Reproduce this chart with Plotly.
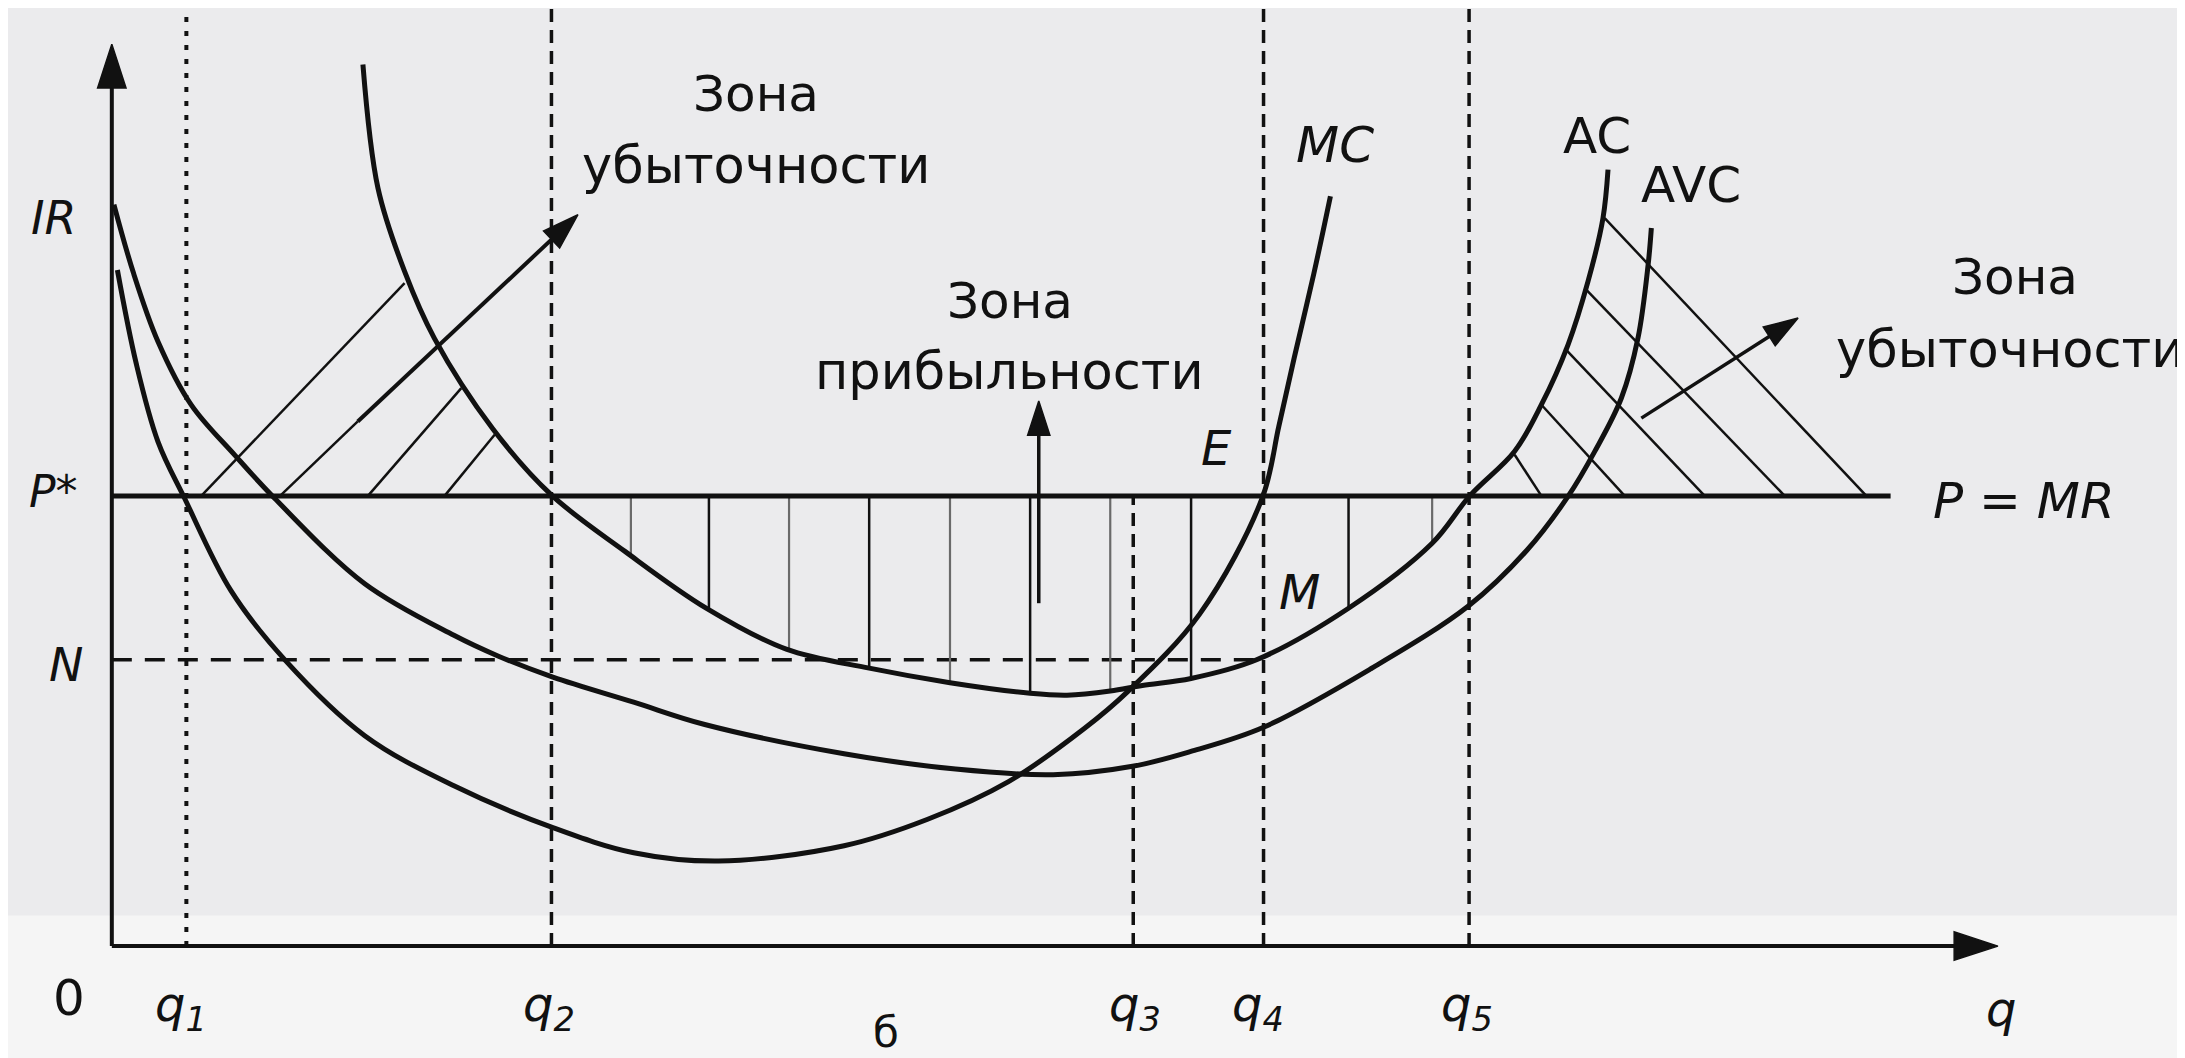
import numpy as np
import plotly.graph_objects as go

# ---------------- data (arbitrary schematic units) ----------------
q_names = ["q<sub>1</sub>", "q<sub>2</sub>", "q<sub>3</sub>", "q<sub>4</sub>", "q<sub>5</sub>"]
q_values = [5.35, 31.55, 73.3, 82.65, 97.4]
P_star = 32.3          # price level P* = MR
N_level = 20.54        # level N (AC at q4)
N_end_q = 82.15
P_line_end = 127.65
q_axis_end = 135.35
cost_axis_end = 64.7

mc_q = [0.4, 1.75, 3.31, 5.22, 8.55, 12.45, 18.15, 24.55, 31.65, 37.45, 43.55, 52.55,
        58.55, 64.35, 69.81, 72.9, 78.05, 82.55, 83.75, 84.85, 86.25, 87.45]
mc_cost = [48.5, 41.8, 36.2, 32.13, 25.5, 20.5, 15.1, 11.5, 8.5, 6.7, 6.1, 7.2,
           9.1, 11.8, 15.63, 18.26, 23.8, 32.14, 37.3, 42.2, 48.2, 53.8]

avc_q = [0.15, 1.55, 3.31, 5.7, 8.81, 11.68, 18.15, 24.55, 27.75, 31.65, 37.45, 42.55,
         52.55, 60.55, 67.55, 73.25, 77.55, 82.65, 90.35, 97.35, 101.55, 104.5,
         106.42, 108.33, 109.52, 110.25, 110.48]
avc_cost = [53.2, 48.3, 43.38, 38.83, 35.24, 32.13, 26.0, 22.3, 20.8, 19.3, 17.5, 15.9,
            13.8, 12.7, 12.3, 12.9, 14.0, 15.7, 19.9, 24.4, 28.4, 32.26,
            35.49, 39.32, 43.62, 48.89, 51.52]

ac_q = [18.02, 19.1, 21.01, 23.15, 27.35, 31.54, 36.85, 42.65, 48.4, 54.35, 60.15,
        65.9, 68.55, 71.65, 73.95, 77.45, 82.15, 88.75, 94.75, 97.45, 100.67, 102.59,
        104.5, 105.94, 107.01, 107.37]
ac_cost = [63.25, 54.38, 48.4, 43.6, 37.1, 32.37, 28.3, 24.25, 21.3, 19.94, 18.9,
           18.14, 18.0, 18.3, 18.7, 19.2, 20.54, 24.24, 28.9, 32.3, 35.5, 38.84,
           43.14, 47.7, 52.23, 55.7]

# profit zone hatching (vertical strokes from P down to AC)
profit_hatch_dark_q = [42.85, 54.35, 65.9, 77.45, 88.75]
profit_hatch_light_q = [37.25, 48.6, 60.15, 71.65, 94.75]

# left loss zone hatching (start on P line, end near AC)
left_hatch_q0 = [6.42, 18.38, 23.88]
left_hatch_q1 = [21.01, 25.08, 27.47]
left_hatch_c1 = [47.56, 40.03, 36.68]
left_arrow_q = [12.15, 17.65, 33.45]
left_arrow_c = [32.37, 37.64, 52.47]

# right loss zone hatching (start on AC, end on P line)
right_hatch_q0 = [107.13, 105.7, 104.25, 102.59, 100.67]
right_hatch_c0 = [52.23, 47.21, 42.9, 38.84, 35.25]
right_hatch_q1 = [125.91, 120.05, 114.31, 108.57, 102.59]
right_arrow_q = [109.76, 121.01]
right_arrow_c = [37.88, 45.06]

profit_arrow_q = 66.52
profit_arrow_c = [24.6, 39.1]

X_RANGE = [-7.45, 149.35]
Y_RANGE = [-8.6, 67.3]

INK = "#111111"
FONT = "DejaVu Sans"

fig = go.Figure()


def add_line(xs, ys, width, dash=None, shape="linear", color=INK):
    fig.add_trace(go.Scatter(x=xs, y=ys, mode="lines",
                             line=dict(color=color, width=width, dash=dash, shape=shape),
                             hoverinfo="skip", showlegend=False))


def add_arrow(xs, ys, width, head):
    n = len(xs)
    fig.add_trace(go.Scatter(
        x=xs, y=ys, mode="lines+markers",
        line=dict(color=INK, width=width),
        marker=dict(symbol=["circle"] * (n - 1) + ["arrow"],
                    size=[0] * (n - 1) + [head], angleref="previous",
                    color=INK, opacity=1, line=dict(width=1.5, color=INK)),
        hoverinfo="skip", showlegend=False))


# light lower strip of the scan
fig.add_shape(type="rect", xref="paper", yref="y", x0=0, x1=1, y0=Y_RANGE[0], y1=2.2,
              fillcolor="#f5f5f5", line=dict(width=0), layer="below")

# axes
add_arrow([0, 0], [0, cost_axis_end], 4, 46)
add_arrow([0, q_axis_end], [0, 0], 4, 46)

# vertical q lines
add_line([q_values[0]] * 2, [0, Y_RANGE[1]], 4, dash="5px,9px")
for i in (1, 3, 4):
    add_line([q_values[i]] * 2, [0, Y_RANGE[1]], 3.5, dash="13px,8px")
add_line([q_values[2]] * 2, [0, P_star], 3.5, dash="13px,8px")

# N level
add_line([0, N_end_q], [N_level, N_level], 3.5, dash="20px,13px")

# profit hatching
ac_x = np.array(ac_q)
ac_y = np.array(ac_cost)
for qv in profit_hatch_dark_q:
    add_line([qv, qv], [P_star, float(np.interp(qv, ac_x, ac_y))], 2.5)
for qv in profit_hatch_light_q:
    add_line([qv, qv], [P_star, float(np.interp(qv, ac_x, ac_y))], 2.2, color="#6a6a6a")

# left hatching
for a, b, c in zip(left_hatch_q0, left_hatch_q1, left_hatch_c1):
    add_line([a, b], [P_star, c], 2.5)
add_line(left_arrow_q[:2], left_arrow_c[:2], 2.5)
add_arrow(left_arrow_q[1:], left_arrow_c[1:], 4, 38)

# right hatching
for a, c, b in zip(right_hatch_q0, right_hatch_c0, right_hatch_q1):
    add_line([a, b], [c, P_star], 2.5)
add_arrow(right_arrow_q, right_arrow_c, 3.5, 36)

# profit arrow
add_arrow([profit_arrow_q] * 2, profit_arrow_c, 3.5, 36)

# P = MR line
add_line([0, P_line_end], [P_star, P_star], 5)

# cost curves
add_line(mc_q, mc_cost, 5, shape="spline")
add_line(avc_q, avc_cost, 5, shape="spline")
add_line(ac_q, ac_cost, 5, shape="spline")


def txt(x, y, s, size=50, xanchor="center", yanchor="middle"):
    fig.add_annotation(x=x, y=y, xref="x", yref="y", text=s, showarrow=False,
                       xanchor=xanchor, yanchor=yanchor,
                       font=dict(family=FONT, size=size, color=INK))


# zone texts
txt(46.25, 61.1, "Зона", 50)
txt(46.25, 56.0, "убыточности", 51)
txt(64.45, 46.3, "Зона", 50)
txt(64.45, 41.2, "прибыльности", 51)
txt(136.55, 48.0, "Зона", 50)
txt(136.25, 42.8, "убыточности", 51)

# curve labels
txt(87.75, 57.5, "<i>MC</i>", 50)
txt(106.55, 58.1, "AC", 50)
txt(113.35, 54.6, "AVC", 50)
txt(79.25, 35.7, "<i>E</i>", 48)
txt(85.25, 25.4, "<i>M</i>", 48)
txt(137.2, 31.9, "<i>P = MR</i>", 50)

# axis labels
txt(-4.15, 52.2, "<i>IR</i>", 46)
txt(-2.3, 32.6, "<i>P*</i>", 44, xanchor="right")
txt(-3.3, 20.2, "<i>N</i>", 46)
txt(-3.05, -3.75, "0", 50)
for name, qv, dx in zip(q_names, q_values, [-0.35, -0.2, 0.15, -0.4, -0.15]):
    txt(qv + dx, -4.4, "<i>" + name + "</i>", 48)
txt(135.55, -4.5, "<i>q</i>", 48)
txt(55.55, Y_RANGE[0] + 0.5, "б", 42, yanchor="bottom")

fig.update_layout(
    width=2185, height=1058, autosize=False,
    margin=dict(l=0, r=0, t=0, b=0),
    paper_bgcolor="#ebebed", plot_bgcolor="rgba(0,0,0,0)",
    xaxis=dict(range=X_RANGE, visible=False, fixedrange=True),
    yaxis=dict(range=Y_RANGE, visible=False, fixedrange=True),
    showlegend=False,
)

fig.write_html("out.html")
